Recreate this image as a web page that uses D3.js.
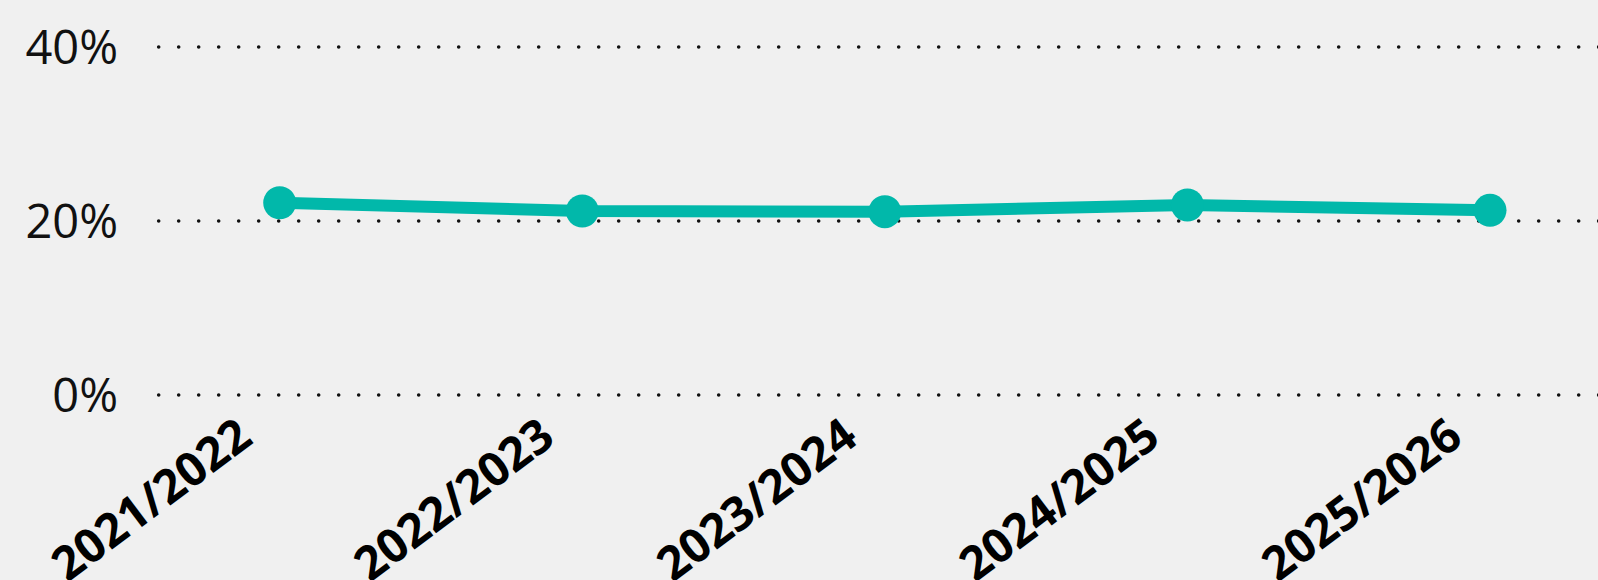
<!DOCTYPE html>
<html>
<head>
<meta charset="utf-8">
<script src="https://cdn.jsdelivr.net/npm/d3@7"></script>
<style>
  html, body { margin: 0; padding: 0; background: #f0f0f0; overflow: hidden; }
  svg { display: block; }
</style>
</head>
<body>
<svg id="chart" width="1598" height="580"></svg>
<script>
const categories = ["2021/2022", "2022/2023", "2023/2024", "2024/2025", "2025/2026"];
const values = [0.221, 0.2115, 0.2107, 0.2184, 0.2123];
const yTicks = [0, 0.2, 0.4];
const yTickLabels = ["0%", "20%", "40%"];

const W = 1598, H = 580;
const svg = d3.select("#chart");
svg.append("rect").attr("width", W).attr("height", H).attr("fill", "#f0f0f0");

const x = d3.scalePoint().domain(categories).range([279.7, 1490]).padding(0);
const y = d3.scaleLinear().domain([0, 0.4]).range([395, 47]);

// gridlines
const grid = svg.append("g");
grid.selectAll("line").data(yTicks).join("line")
  .attr("x1", 158.7).attr("x2", W + 5)
  .attr("y1", d => y(d)).attr("y2", d => y(d))
  .attr("stroke", "#111")
  .attr("stroke-width", 3.6)
  .attr("stroke-linecap", "round")
  .attr("stroke-dasharray", "0 20");

// y labels
svg.append("g").selectAll("text").data(yTicks).join("text")
  .attr("x", 118).attr("y", d => y(d))
  .attr("dy", "0.36em")
  .attr("text-anchor", "end")
  .attr("font-family", "'Open Sans', sans-serif")
  .attr("font-size", 47)
  .attr("fill", "#111")
  .text((d, i) => yTickLabels[i]);

// x labels
svg.append("g").selectAll("text").data(categories).join("text")
  .attr("transform", d => `translate(${x(d) - 25},442) rotate(-37)`)
  .attr("text-anchor", "end")
  .attr("font-family", "'Open Sans', sans-serif")
  .attr("font-weight", "bold")
  .attr("font-size", 47)
  .attr("fill", "#000")
  .text(d => d);

// line
const line = d3.line().x((d, i) => x(categories[i])).y(d => y(d));
svg.append("path").datum(values)
  .attr("d", line)
  .attr("fill", "none")
  .attr("stroke", "#01B8AA")
  .attr("stroke-width", 12);

// markers
svg.append("g").selectAll("circle").data(values).join("circle")
  .attr("cx", (d, i) => x(categories[i]))
  .attr("cy", d => y(d))
  .attr("r", 16.5)
  .attr("fill", "#01B8AA");
</script>
</body>
</html>
